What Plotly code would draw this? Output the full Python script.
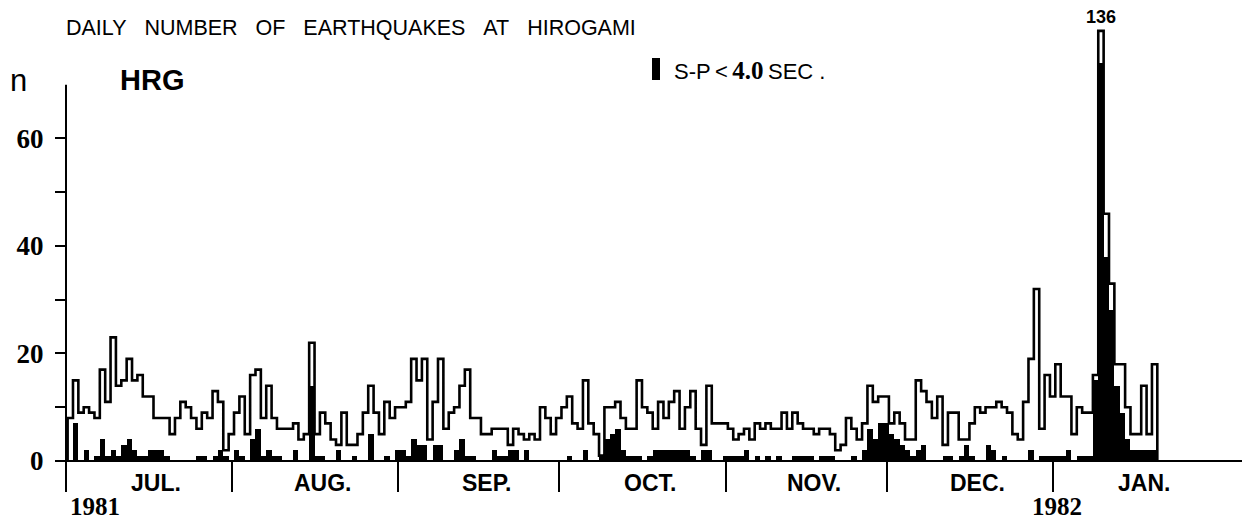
import numpy as np
import plotly.graph_objects as go

# ---------------- data ----------------
months = ["JUL.", "AUG.", "SEP.", "OCT.", "NOV.", "DEC.", "JAN."]
month_days = [31, 31, 30, 31, 30, 31, 31]
year_labels = ["1981", "1982"]

# daily total number of earthquakes (outline)
total_jul = [8, 15, 9, 10, 9, 8, 17, 11, 23, 14, 15, 19, 15, 16, 12, 12, 8, 8, 8, 5, 8, 11, 10, 8, 6, 9, 8, 13, 11, 2, 5]
total_aug = [9, 12, 5, 16, 17, 8, 14, 8, 6, 6, 6, 7, 4, 5, 22, 5, 9, 7, 4, 3, 9, 3, 3, 5, 9, 14, 9, 5, 11, 8, 10]
total_sep = [10, 11, 19, 15, 19, 4, 11, 19, 6, 9, 10, 14, 17, 8, 8, 5, 5, 6, 6, 6, 3, 6, 5, 4, 5, 4, 10, 8, 5, 8]
total_oct = [10, 12, 7, 6, 15, 7, 5, 1, 10, 10, 11, 8, 6, 6, 15, 10, 9, 6, 11, 8, 11, 13, 6, 10, 13, 6, 3, 14, 7, 7, 7]
total_nov = [6, 4, 5, 6, 4, 7, 6, 7, 6, 6, 9, 6, 9, 7, 6, 6, 5, 6, 6, 5, 2, 3, 8, 6, 4, 7, 14, 11, 12, 12]
total_dec = [7, 9, 7, 4, 4, 15, 13, 11, 8, 12, 3, 9, 9, 4, 4, 7, 10, 9, 10, 10, 11, 10, 9, 5, 4, 11, 19, 32, 6, 16, 12]
total_jan = [18, 12, 12, 5, 10, 9, 9, 16, 136, 46, 33, 18, 18, 10, 5, 5, 14, 5, 18]

# daily number with S-P < 4.0 sec (black bars)
sp_jul = [0, 7, 0, 2, 0, 1, 4, 1, 2, 1, 3, 4, 2, 1, 1, 2, 2, 2, 1, 0, 0, 0, 0, 0, 1, 1, 0, 1, 2, 1, 0]
sp_aug = [2, 1, 0, 4, 6, 1, 2, 1, 1, 0, 0, 2, 0, 0, 14, 1, 1, 0, 0, 2, 0, 0, 1, 0, 0, 5, 0, 0, 1, 0, 2]
sp_sep = [2, 1, 4, 3, 3, 0, 3, 3, 0, 0, 2, 4, 1, 1, 0, 0, 0, 2, 1, 1, 2, 2, 0, 2, 0, 0, 0, 0, 0, 0]
sp_oct = [0, 1, 0, 0, 2, 0, 0, 1, 4, 5, 6, 2, 1, 1, 1, 0, 1, 2, 2, 2, 2, 2, 2, 2, 1, 0, 2, 2, 0, 0, 1]
sp_nov = [1, 1, 1, 2, 0, 1, 0, 1, 0, 1, 0, 0, 1, 1, 1, 1, 0, 1, 1, 1, 0, 0, 0, 1, 0, 2, 6, 4, 7, 7]
sp_dec = [5, 4, 3, 2, 1, 2, 3, 0, 0, 0, 1, 1, 0, 1, 3, 1, 0, 0, 3, 2, 0, 1, 0, 0, 0, 0, 2, 0, 1, 1, 1]
sp_jan = [1, 1, 2, 0, 1, 1, 1, 15, 120, 38, 28, 14, 9, 4, 2, 2, 2, 2, 2]

y_tick_vals = [0, 10, 20, 30, 40, 50, 60]
y_tick_text = ["0", "", "20", "", "40", "", "60"]

# ---------------- assembly ----------------
total = np.array(total_jul + total_aug + total_sep + total_oct + total_nov + total_dec + total_jan, dtype=float)
sp = np.array(sp_jul + sp_aug + sp_sep + sp_oct + sp_nov + sp_dec + sp_jan, dtype=float)
n_days = len(total)
day = np.arange(n_days)

TOTAL_CAP = 80   # off-scale day is drawn truncated and labelled
SP_CAP = 74
total_disp = np.minimum(total, TOTAL_CAP)
sp_disp = np.minimum(sp, SP_CAP)

# step outline
edges = np.concatenate([[0], day, [n_days, n_days]])
outline = np.concatenate([[0], total_disp, [total_disp[-1], 0]])

month_start = np.concatenate([[0], np.cumsum(month_days)[:-1]])
month_center = month_start + np.array(month_days) / 2.0 + 1.0

# geometry
W, H = 1242, 519
ML, MR, MT, MB = 66, 0, 4, 58
PX_PER_DAY = 5.368
X0 = -0.3
plot_w = W - ML - MR
plot_h = H - MT - MB
x_range = [X0, X0 + plot_w / PX_PER_DAY]
y_range = [0, 85]


def px_to_paper_x(px):
    return (px - ML) / plot_w


def px_to_paper_y(py):
    return (H - MB - py) / plot_h


fig = go.Figure()
fig.add_trace(go.Bar(x=day + 0.5, y=sp_disp, width=1.0,
                     marker=dict(color="black", line=dict(width=0)),
                     hoverinfo="skip", showlegend=False))
fig.add_trace(go.Scatter(x=edges, y=outline, mode="lines",
                         line=dict(color="black", width=2.6, shape="hv"),
                         hoverinfo="skip", showlegend=False))

SP3 = "\u00a0\u00a0\u00a0"
ann = []
ann.append(dict(text=SP3.join(["DAILY", "NUMBER", "OF", "EARTHQUAKES", "AT", "HIROGAMI"]),
                xref="paper", yref="paper", x=px_to_paper_x(64), y=px_to_paper_y(28),
                xanchor="left", yanchor="middle", showarrow=False,
                font=dict(family="Liberation Sans", size=21.5, color="black")))
ann.append(dict(text="n", xref="paper", yref="paper", x=px_to_paper_x(8), y=px_to_paper_y(80),
                xanchor="left", yanchor="middle", showarrow=False,
                font=dict(family="Liberation Sans", size=31, color="black")))
ann.append(dict(text="<b>HRG</b>", xref="paper", yref="paper", x=px_to_paper_x(118), y=px_to_paper_y(80),
                xanchor="left", yanchor="middle", showarrow=False,
                font=dict(family="Liberation Sans", size=29, color="black")))
ann.append(dict(text="S-P\u2009&lt;\u2009<span style='font-family:Liberation Serif;font-weight:bold;font-size:25px'>4.0</span>\u2009SEC\u00a0.",
                xref="paper", yref="paper", x=px_to_paper_x(672), y=px_to_paper_y(70),
                xanchor="left", yanchor="middle", showarrow=False,
                font=dict(family="Liberation Sans", size=22, color="black")))
# label of the off-scale day
peak_idx = int(np.argmax(total))
ann.append(dict(text="<b>%d</b>" % int(total[peak_idx]), xref="x", yref="y",
                x=peak_idx + 0.5, y=TOTAL_CAP + 2.6, xanchor="center", yanchor="middle",
                showarrow=False, font=dict(family="Liberation Sans", size=18, color="black")))
# month labels
for m, c in zip(months, month_center):
    ann.append(dict(text="<b>%s</b>" % m, xref="x", yref="paper", x=c, y=px_to_paper_y(483),
                    xanchor="center", yanchor="middle", showarrow=False,
                    font=dict(family="Liberation Sans", size=23, color="black")))
# year labels
ann.append(dict(text="<b>%s</b>" % year_labels[0], xref="x", yref="paper", x=month_start[0], y=px_to_paper_y(506),
                xanchor="left", yanchor="middle", showarrow=False,
                font=dict(family="Liberation Serif", size=25, color="black")))
ann.append(dict(text="<b>%s</b>" % year_labels[1], xref="x", yref="paper", x=month_start[6] + 0.3, y=px_to_paper_y(506),
                xanchor="center", yanchor="middle", showarrow=False,
                font=dict(family="Liberation Serif", size=25, color="black")))

shapes = []
# x axis line (extends a little left of the y axis)
shapes.append(dict(type="line", xref="paper", yref="paper", x0=px_to_paper_x(59), x1=1.0, y0=0, y1=0,
                   line=dict(color="black", width=2)))
# y axis line (stops at ~70, continues below as the first month tick)
shapes.append(dict(type="line", xref="paper", yref="paper", x0=0, x1=0, y0=px_to_paper_y(492),
                   y1=70 / y_range[1], line=dict(color="black", width=2)))
# legend symbol
shapes.append(dict(type="rect", xref="paper", yref="paper", x0=px_to_paper_x(652), x1=px_to_paper_x(660),
                   y0=px_to_paper_y(80), y1=px_to_paper_y(58), fillcolor="black", line=dict(width=0)))

fig.update_layout(
    width=W, height=H,
    margin=dict(l=ML, r=MR, t=MT, b=MB),
    paper_bgcolor="white", plot_bgcolor="white",
    bargap=0, barmode="overlay",
    annotations=ann, shapes=shapes,
    xaxis=dict(range=x_range, showgrid=False, zeroline=False, showline=False, automargin=False,
               tickvals=list(month_start[1:] - 0.4), ticks="outside", ticklen=30, tickwidth=2,
               tickcolor="black", showticklabels=False),
    yaxis=dict(range=y_range, showgrid=False, zeroline=False, showline=False, automargin=False,
               tickvals=y_tick_vals, ticktext=y_tick_text, ticks="outside", ticklen=10, tickwidth=2,
               tickcolor="black", ticklabelstandoff=6,
               tickfont=dict(family="Liberation Serif", size=27, color="black", weight="bold")),
)

fig.write_html("out.html", config={"displayModeBar": False},
               post_script="document.body.style.margin='0px';document.body.style.overflow='hidden';")
